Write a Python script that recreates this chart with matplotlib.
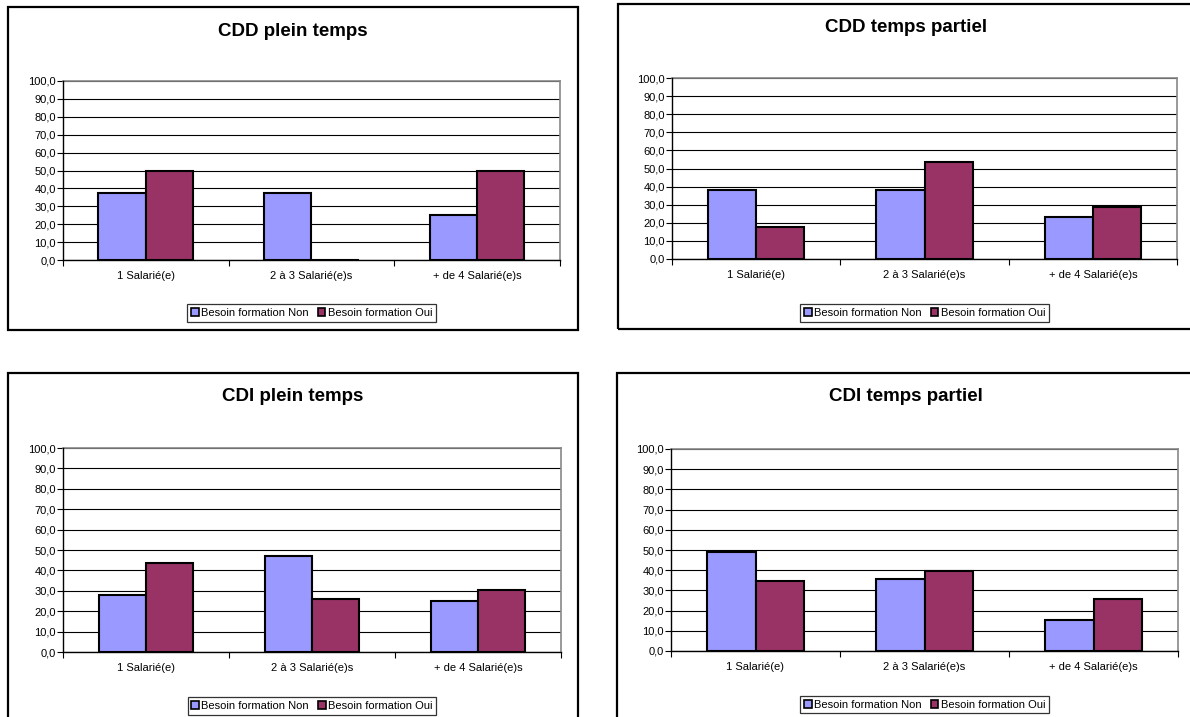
import matplotlib
matplotlib.use('Agg')
import matplotlib.pyplot as plt
from matplotlib.patches import Rectangle, Patch
from matplotlib.ticker import FuncFormatter, FixedLocator
import numpy as np

plt.rcParams['font.family'] = ['Liberation Sans', 'DejaVu Sans']

categories = ['1 Salarié(e)', '2 à 3 Salarié(e)s', '+ de 4 Salarié(e)s']
series_names = ['Besoin formation Non', 'Besoin formation Oui']

titles = ['CDD plein temps', 'CDD temps partiel', 'CDI plein temps', 'CDI temps partiel']

cdd_plein_non = [37.5, 37.5, 25.0]
cdd_plein_oui = [50.0, 0.0, 50.0]
cdd_partiel_non = [38.3, 38.3, 23.4]
cdd_partiel_oui = [17.9, 53.6, 28.6]
cdi_plein_non = [28.1, 46.9, 25.0]
cdi_plein_oui = [43.5, 26.1, 30.4]
cdi_partiel_non = [49.2, 35.6, 15.3]
cdi_partiel_oui = [34.9, 39.5, 25.6]

yticks = [0, 10, 20, 30, 40, 50, 60, 70, 80, 90, 100]

col_non = '#9999FF'
col_oui = '#993366'

W, H = 1190, 717
fig = plt.figure(figsize=(W / 100, H / 100), dpi=100)


def fx(px):
    return px / W


def fy(py):
    return 1 - py / H


# (frame box, plot area, title y) in pixels: left, top, right, bottom
panels = [
    ((8, 7, 578, 330), (63, 81, 560, 260), 31, cdd_plein_non, cdd_plein_oui),
    ((618, 4, 1194, 329), (672, 78, 1177, 259), 27, cdd_partiel_non, cdd_partiel_oui),
    ((8, 373, 578, 760), (63, 448, 561, 652), 397, cdi_plein_non, cdi_plein_oui),
    ((617, 373, 1194, 760), (671, 449, 1178, 651), 397, cdi_partiel_non, cdi_partiel_oui),
]

fmt = FuncFormatter(lambda v, p: ('%.1f' % v).replace('.', ','))

for i, (box, area, ty, non, oui) in enumerate(panels):
    bl, bt, br, bb = box
    fig.patches.append(Rectangle((fx(bl), fy(bb)), fx(br - bl), (bb - bt) / H,
                                 transform=fig.transFigure, fill=False,
                                 edgecolor='black', linewidth=1.6, zorder=0))
    fig.text(fx((bl + br) / 2), fy(ty), titles[i], ha='center', va='center',
             fontsize=13.5, fontweight='bold')

    l, t, r, b = area
    ax = fig.add_axes([fx(l), fy(b), fx(r - l), (b - t) / H])
    x = np.arange(len(categories))
    w = 1 / 3.5
    ax.bar(x - w / 2, non, w, color=col_non, edgecolor='black', linewidth=1.5, zorder=3)
    ax.bar(x + w / 2, oui, w, color=col_oui, edgecolor='black', linewidth=1.5, zorder=3)

    ax.set_xlim(-0.5, len(categories) - 0.5)
    ax.set_ylim(0, 100)
    ax.set_yticks(yticks)
    ax.yaxis.set_major_formatter(fmt)
    ax.tick_params(axis='y', direction='out', length=4, width=0.8, pad=1, labelsize=8)
    ax.set_xticks(x)
    ax.set_xticklabels(categories)
    ax.tick_params(axis='x', which='major', length=0, pad=8, labelsize=8)
    ax.xaxis.set_minor_locator(FixedLocator([-0.5, 0.5, 1.5, 2.5]))
    ax.tick_params(axis='x', which='minor', direction='out', length=4, width=0.8)

    ax.grid(axis='y', color='black', linewidth=0.8, zorder=1)
    ax.set_axisbelow(True)
    for s in ['top', 'right']:
        ax.spines[s].set_color('#888888')
        ax.spines[s].set_linewidth(1.2)
    for s in ['left', 'bottom']:
        ax.spines[s].set_color('black')
        ax.spines[s].set_linewidth(1.0)
        ax.spines[s].set_zorder(4)

    handles = [Patch(facecolor=col_non, edgecolor='black', linewidth=1.2),
               Patch(facecolor=col_oui, edgecolor='black', linewidth=1.2)]
    leg_y = bt + (313 - 7) if i < 2 else 706
    if i == 1:
        leg_y = 313
    if i == 3:
        leg_y = 704.5
    leg = ax.legend(handles, series_names, loc='center', ncol=2, fontsize=8,
                    bbox_to_anchor=(fx((l + r) / 2), fy(leg_y)),
                    bbox_transform=fig.transFigure, frameon=True, fancybox=False,
                    handlelength=0.7, handleheight=0.7, handletextpad=0.2,
                    columnspacing=0.8, borderpad=0.35, borderaxespad=0)
    leg.get_frame().set_edgecolor('black')
    leg.get_frame().set_linewidth(0.9)

fig.savefig('out.png', dpi=100, facecolor='white')
